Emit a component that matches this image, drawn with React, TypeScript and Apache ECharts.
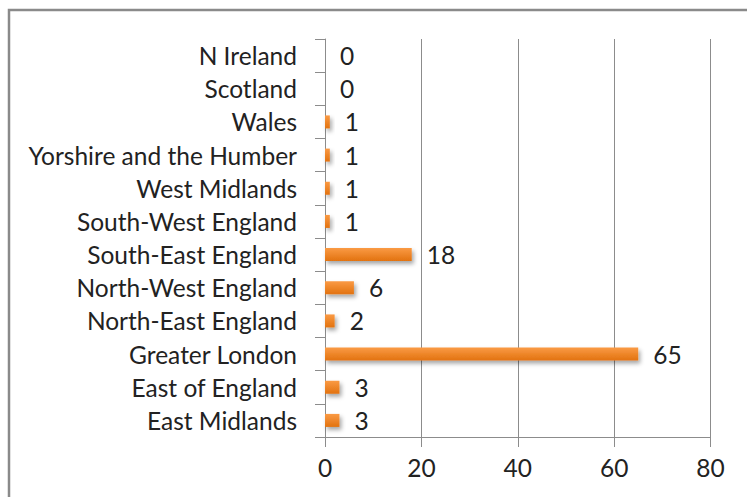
import React, { useEffect, useRef } from "react";
import * as echarts from "echarts";

const categories = [
  "East Midlands",
  "East of England",
  "Greater London",
  "North-East England",
  "North-West England",
  "South-East England",
  "South-West England",
  "West Midlands",
  "Yorshire and the Humber",
  "Wales",
  "Scotland",
  "N Ireland",
];
const values = [3, 3, 65, 2, 6, 18, 1, 1, 1, 1, 0, 0];
const xMin = 0;
const xMax = 80;
const xInterval = 20;

const FONT = "Lato";
const TEXT = "#222222";
const AXIS = "#8c8c8c";
const FS = 24.5;

export default function App() {
  const ref = useRef<HTMLDivElement>(null);
  useEffect(() => {
    if (!ref.current) return;
    const chart = echarts.init(ref.current, undefined, { renderer: "svg" });
    chart.setOption({
      animation: false,
      backgroundColor: "#ffffff",
      grid: { left: 325, right: 36.5, top: 39, bottom: 60, containLabel: false },
      graphic: [
        {
          type: "rect",
          shape: { x: 9, y: 10, width: 800, height: 600 },
          style: { fill: "none", stroke: "#8a8a8a", lineWidth: 2.5 },
          silent: true,
        },
      ],
      xAxis: {
        type: "value",
        min: xMin,
        max: xMax,
        interval: xInterval,
        axisLine: { show: true, lineStyle: { color: AXIS, width: 1 } },
        axisTick: { show: true, length: 10, lineStyle: { color: AXIS } },
        splitLine: { show: true, lineStyle: { color: AXIS, width: 1 } },
        axisLabel: { color: TEXT, fontFamily: FONT, fontSize: FS, margin: 18 },
      },
      yAxis: {
        type: "category",
        data: categories,
        axisLine: { show: true, lineStyle: { color: AXIS, width: 1 } },
        axisTick: { show: true, length: 10, lineStyle: { color: AXIS } },
        axisLabel: { color: TEXT, fontFamily: FONT, fontSize: FS, margin: 28 },
      },
      series: [
        {
          type: "bar",
          data: values,
          barWidth: 13,
          itemStyle: {
            color: new echarts.graphic.LinearGradient(0, 0, 0, 1, [
              { offset: 0, color: "#FA9A44" },
              { offset: 1, color: "#E2720F" },
            ]),
            shadowColor: "rgba(0,0,0,0.35)",
            shadowBlur: 4,
            shadowOffsetX: 2,
            shadowOffsetY: 3,
          },
          label: {
            show: true,
            position: "right",
            distance: 15,
            color: TEXT,
            fontFamily: FONT,
            fontSize: FS,
          },
        },
      ],
    });
    return () => chart.dispose();
  }, []);
  return (
    <div
      ref={ref}
      style={{ position: "fixed", left: 0, top: 0, width: 747, height: 497 }}
    />
  );
}
